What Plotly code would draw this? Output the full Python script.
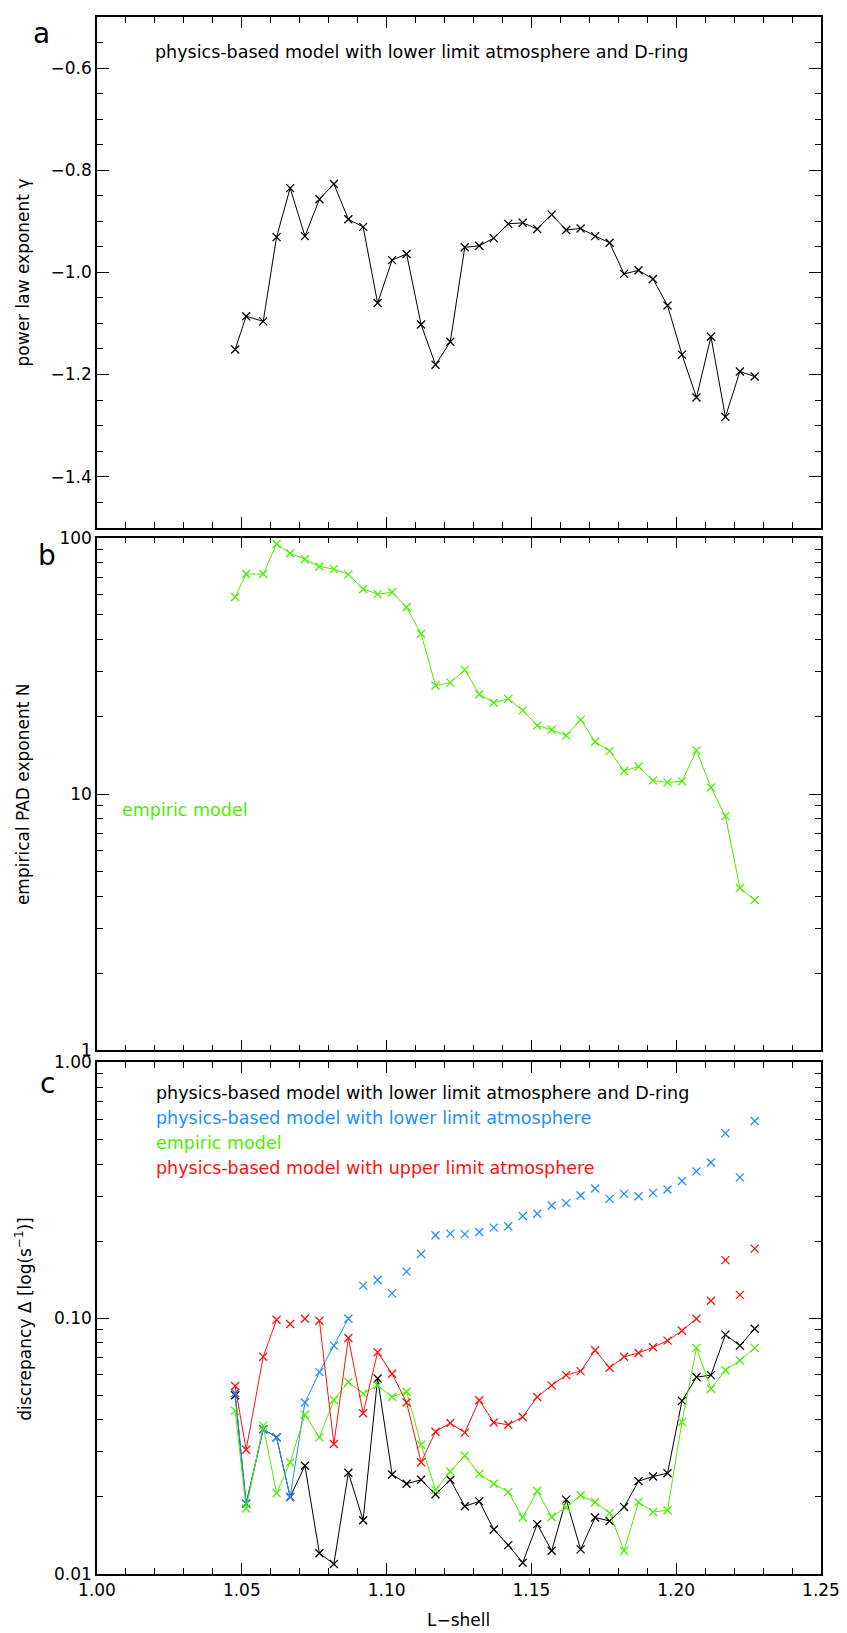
import plotly.graph_objects as go

# ---------------- data ----------------
L_SHELL = [1.0477, 1.0515, 1.0574, 1.0620, 1.0667, 1.0718, 1.0768, 1.0818, 1.0868, 1.0919,
           1.0969, 1.1019, 1.1069, 1.1119, 1.1169, 1.1220, 1.1270, 1.1320, 1.1370, 1.1420,
           1.1470, 1.1520, 1.1570, 1.1620, 1.1670, 1.1720, 1.1770, 1.1820, 1.1870, 1.1920,
           1.1970, 1.2020, 1.2070, 1.2120, 1.2170, 1.2220, 1.2271]

GAMMA = [-1.151, -1.086, -1.096, -0.931, -0.835, -0.929, -0.857, -0.827, -0.896, -0.911,
         -1.060, -0.976, -0.964, -1.102, -1.181, -1.136, -0.951, -0.948, -0.933, -0.905,
         -0.903, -0.915, -0.887, -0.917, -0.914, -0.929, -0.942, -1.003, -0.996, -1.013,
         -1.065, -1.161, -1.245, -1.126, -1.283, -1.194, -1.204]

PAD_N = [58.7, 72.1, 72.1, 94.5, 86.9, 82.4, 77.2, 75.4, 71.9, 63.1,
         60.2, 61.2, 53.5, 42.2, 26.5, 27.2, 30.5, 24.5, 22.7, 23.5,
         21.2, 18.5, 17.8, 16.9, 19.5, 16.0, 14.7, 12.3, 12.8, 11.3,
         11.1, 11.2, 14.8, 10.6, 8.2, 4.30, 3.86]

D_BLACK = [0.0500, 0.01884, 0.0368, 0.0342, 0.0200, 0.0265, 0.01205, 0.01095, 0.02486, 0.01623,
           0.0581, 0.02448, 0.02253, 0.02335, 0.02049, 0.02335, 0.0184, 0.01923, 0.01493, 0.01297,
           0.01107, 0.01566, 0.01233, 0.01953, 0.01248, 0.01662, 0.01612, 0.01828, 0.02306, 0.02404,
           0.02477, 0.0475, 0.0588, 0.0599, 0.0862, 0.0781, 0.0909]

D_BLUE = [0.0510, 0.0188, 0.0368, 0.0342, 0.0200, 0.0468, 0.0615, 0.0781, 0.0995, 0.134,
          0.141, 0.125, 0.152, 0.178, 0.211, 0.214, 0.213, 0.217, 0.2258, 0.2285,
          0.2506, 0.256, 0.2758, 0.2815, 0.3016, 0.321, 0.2925, 0.306, 0.2997, 0.3087,
          0.3182, 0.3437, 0.3748, 0.406, 0.528, 0.355, 0.590]

D_GREEN = [0.0434, 0.01802, 0.0380, 0.0207, 0.02734, 0.0419, 0.0342, 0.0479, 0.0563, 0.0507,
           0.0546, 0.0492, 0.0516, 0.0320, 0.02135, 0.02515, 0.0290, 0.02463, 0.02253, 0.0209,
           0.01662, 0.0211, 0.0167, 0.0182, 0.0203, 0.01906, 0.0173, 0.01233, 0.0191, 0.01748,
           0.01774, 0.0393, 0.0765, 0.0530, 0.0626, 0.0683, 0.0765]

D_RED = [0.0543, 0.0306, 0.0706, 0.0986, 0.0948, 0.0994, 0.0977, 0.0322, 0.0836, 0.0425,
         0.0736, 0.0606, 0.0468, 0.02734, 0.0360, 0.0389, 0.0357, 0.0478, 0.0391, 0.0383,
         0.0411, 0.0492, 0.0546, 0.0599, 0.0621, 0.0749, 0.0640, 0.0706, 0.0731, 0.0769,
         0.0817, 0.0893, 0.0995, 0.117, 0.1686, 0.1233, 0.187]

# points whose markers stand alone (no connecting line segment)
BLUE_UNLINKED = list(range(9, 37))
RED_UNLINKED = [4, 5, 33, 34, 35, 36]

LEGEND_TEXTS = ["physics-based model with lower limit atmosphere and D-ring",
                "physics-based model with lower limit atmosphere",
                "empiric model",
                "physics-based model with upper limit atmosphere"]

BLACK, BLUE, GREEN, RED = "#000000", "#1e8fff", "#4cee00", "#ff1010"
FONT = "DejaVu Sans"

# ---------------- geometry ----------------
W, H = 847, 1633
ML, MR, MT, MB = 97, 25, 7, 59
PW = W - ML - MR
PH = H - MT - MB


def ypap(py):
    return (H - MB - py) / PH


def xpap(px):
    return (px - ML) / PW


dom_a = [ypap(521), ypap(7)]
dom_b = [ypap(1047), ypap(531)]
dom_c = [ypap(1574), ypap(1059)]

fig = go.Figure()


def marker(color):
    return dict(symbol="x-thin", size=8, color=color, line=dict(width=1.3, color=color))


# panel a
fig.add_trace(go.Scatter(x=L_SHELL, y=GAMMA, mode="lines+markers",
                         line=dict(color=BLACK, width=1), marker=marker(BLACK),
                         xaxis="x", yaxis="y", showlegend=False))
# panel b
fig.add_trace(go.Scatter(x=L_SHELL, y=PAD_N, mode="lines+markers",
                         line=dict(color=GREEN, width=1), marker=marker(GREEN),
                         xaxis="x2", yaxis="y2", showlegend=False))


def add_c(values, color, unlinked):
    yl = [None if i in unlinked else v for i, v in enumerate(values)]
    fig.add_trace(go.Scatter(x=L_SHELL, y=yl, mode="lines", connectgaps=False,
                             line=dict(color=color, width=1),
                             xaxis="x3", yaxis="y3", showlegend=False, hoverinfo="skip"))
    fig.add_trace(go.Scatter(x=L_SHELL, y=values, mode="markers", marker=marker(color),
                             xaxis="x3", yaxis="y3", showlegend=False))


add_c(D_BLACK, BLACK, [])
add_c(D_BLUE, BLUE, BLUE_UNLINKED)
add_c(D_GREEN, GREEN, [])
add_c(D_RED, RED, RED_UNLINKED)

tickfont = dict(family=FONT, size=17, color="black")

common_x = dict(range=[1.0, 1.25], tick0=1.0, dtick=0.05, ticks="inside", ticklen=11,
                tickwidth=1, tickcolor="black",
                minor=dict(dtick=0.01, ticks="inside", ticklen=6, tickwidth=1, tickcolor="black"),
                showline=True, linecolor="black", linewidth=1.5, mirror="allticks",
                showgrid=False, zeroline=False, tickformat=".2f", tickfont=tickfont)

common_y = dict(ticks="inside", ticklen=12, tickwidth=1, tickcolor="black",
                showline=True, linecolor="black", linewidth=1.5, mirror="allticks",
                showgrid=False, zeroline=False, tickfont=tickfont)

minor_b = [m * d for d in (1, 10) for m in range(2, 10)]
minor_c = [m * d for d in (0.01, 0.1) for m in range(2, 10)]

fig.update_layout(
    width=W, height=H,
    margin=dict(l=ML, r=MR, t=MT, b=MB, pad=0),
    paper_bgcolor="white", plot_bgcolor="white",
    font=dict(family=FONT, size=17, color="black"),
    xaxis=dict(common_x, anchor="y", showticklabels=False),
    xaxis2=dict(common_x, anchor="y2", matches="x", showticklabels=False),
    xaxis3=dict(common_x, anchor="y3", matches="x", showticklabels=True),
    yaxis=dict(common_y, domain=dom_a, anchor="x", range=[-1.5, -0.5], tick0=-0.6, dtick=0.2,
               tickformat=".1f",
               minor=dict(dtick=0.05, ticks="inside", ticklen=6, tickwidth=1, tickcolor="black")),
    yaxis2=dict(common_y, domain=dom_b, anchor="x2", type="log", range=[0, 2],
                tickvals=[1, 10, 100], ticktext=["1", "10", "100"],
                minor=dict(tickvals=minor_b, ticks="inside", ticklen=6, tickwidth=1,
                           tickcolor="black")),
    yaxis3=dict(common_y, domain=dom_c, anchor="x3", type="log", range=[-2, 0],
                tickvals=[0.01, 0.1, 1], ticktext=["0.01", "0.10", "1.00"],
                minor=dict(tickvals=minor_c, ticks="inside", ticklen=6, tickwidth=1,
                           tickcolor="black")),
)

ann = []


def text(px, py, s, color="black", size=17.5, xanchor="left", angle=0):
    ann.append(dict(x=xpap(px), y=ypap(py), xref="paper", yref="paper", text=s,
                    showarrow=False, xanchor=xanchor, yanchor="middle", textangle=angle,
                    font=dict(family=FONT, size=size, color=color)))


# panel letters
text(41, 24, "a", size=28, xanchor="center")
text(47, 549, "b", size=28, xanchor="center")
text(47, 1080, "c", size=28, xanchor="center")

# in-panel texts
text(153, 42, LEGEND_TEXTS[0], BLACK)
text(120, 805, LEGEND_TEXTS[2], GREEN)
for i, (s, c) in enumerate(zip(LEGEND_TEXTS, [BLACK, BLUE, GREEN, RED])):
    text(154, 1090 + 25 * i, s, c)

# axis titles
text(23, 264, "power law exponent γ", xanchor="center", angle=-90, size=17)
text(23, 789, "empirical PAD exponent N", xanchor="center", angle=-90, size=17)
text(23, 1318, "discrepancy Δ [log(s<sup>−1</sup>)]", xanchor="center", angle=-90, size=17)
text(459, 1620, "L−shell", xanchor="center", size=17)

fig.update_layout(annotations=ann)

fig.write_html("out.html")
